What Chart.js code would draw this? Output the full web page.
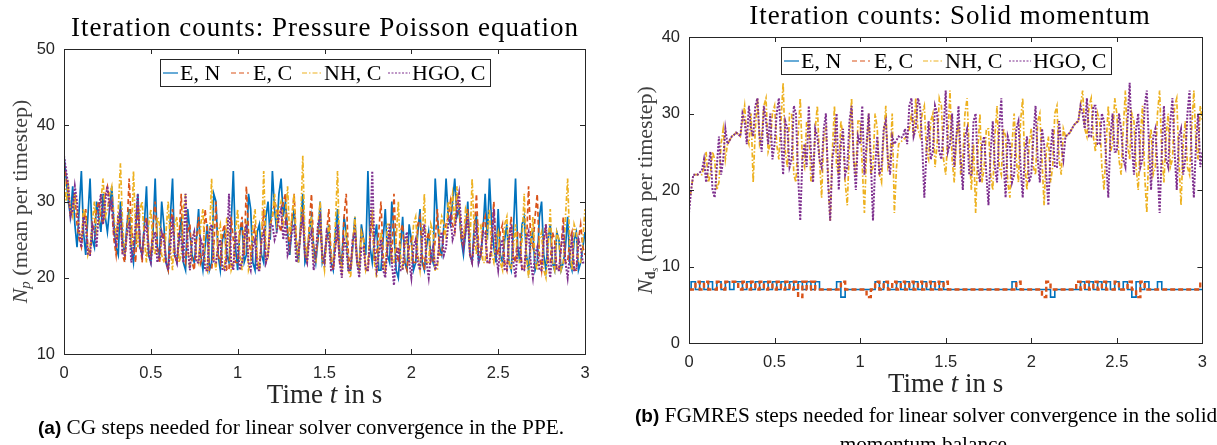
<!DOCTYPE html>
<html>
<head>
<meta charset="utf-8">
<script src="https://cdn.jsdelivr.net/npm/chart.js@4.4.1/dist/chart.umd.min.js"></script>
<style>
body { margin: 0; background: #fff; width: 1217px; height: 445px; overflow: hidden; position: relative; }
.panel { position: absolute; top: 0; height: 445px; }
.title { position: absolute; font-family: "Liberation Serif", serif; font-size: 27px; letter-spacing: 1px; line-height: 30px; color: #000; white-space: nowrap; transform: translateX(-50%); }
.caption { position: absolute; font-family: "Liberation Serif", serif; font-size: 21.3px; line-height: 24px; color: #000; white-space: nowrap; }
.caption b { font-family: "Liberation Sans", Arial, sans-serif; font-size: 19px; }
</style>
</head>
<body>
<div class="panel" style="left:0;width:605px"><canvas id="ppeChart"></canvas></div>
<div class="panel" style="left:610px;width:607px"><canvas id="solidChart"></canvas></div>
<div class="title" style="left:325px;top:12px">Iteration counts: Pressure Poisson equation</div>
<div class="title" style="left:950px;top:0px">Iteration counts: Solid momentum</div>
<div class="caption" style="left:38px;top:415px"><b>(a)</b> CG steps needed for linear solver convergence in the PPE.</div>
<div class="caption" style="left:635px;top:403px"><b>(b)</b> FGMRES steps needed for linear solver convergence in the solid</div>
<div class="caption" style="left:926px;top:432px;transform:translateX(-50%)">momentum balance.</div>
<script>
// (a) CG iterations, pressure Poisson equation, sampled every 0.0125 s
const ppeEN = [36,33,30,28,32,27,24,29,34,26,23,28,33,25,24,30,28,26,31,28,
  26,29,32,27,24,23,30,25,23,27,29,24,22,26,31,24,23,27,32,23,
  22,26,33,24,23,30,27,22,21,28,33,23,22,25,28,22,21,29,26,23,
  22,25,29,23,21,24,27,21,22,31,30,23,21,25,26,23,22,27,34,24,
  21,26,27,22,23,31,29,22,21,26,27,23,22,28,30,25,34,29,26,31,
  33,28,30,26,23,27,29,24,22,27,31,22,23,26,28,24,22,25,30,22,
  23,25,27,22,21,26,29,23,22,28,26,21,21,24,28,22,21,27,25,23,
  34,24,22,25,27,21,21,25,29,23,22,30,26,21,20,24,28,22,21,27,
  25,21,22,26,29,22,21,24,26,23,22,33,28,24,23,27,33,28,27,30,
  33,28,29,25,23,26,30,23,22,27,28,22,23,26,31,25,33,27,24,22,
  29,23,22,25,27,22,21,26,33,24,22,27,28,23,21,25,26,21,22,28,
  30,23,21,25,27,22,21,26,25,21,22,24,28,22,21,25,26,21,22,24,
  26];
const ppeEC = [35,33,31,28,29,31,27,25,24,27,29,24,23,26,27,29,30,28,27,31,
  32,30,29,25,23,27,28,23,22,26,33,27,24,22,30,25,22,27,28,24,
  23,27,30,24,22,25,26,22,21,27,29,23,22,25,31,23,22,26,27,22,
  21,25,28,22,23,29,26,21,21,24,30,23,22,26,27,21,21,28,25,22,
  22,26,28,23,32,26,23,25,27,22,21,25,29,22,23,27,28,30,29,27,
  26,30,31,26,24,28,31,25,23,26,29,23,22,27,31,24,23,25,27,22,
  22,26,29,23,21,24,26,22,22,28,31,23,21,25,27,22,22,26,25,21,
  21,25,28,22,23,26,30,23,21,24,26,22,31,24,22,26,27,22,21,24,
  25,22,22,27,28,23,21,25,26,22,22,25,29,23,23,26,27,28,30,27,
  26,31,29,25,24,27,29,23,22,26,31,24,23,27,28,22,22,25,30,24,
  23,26,27,22,21,25,28,23,22,26,26,21,21,24,32,25,24,28,31,23,
  21,25,27,22,22,26,25,21,21,24,28,22,22,25,26,21,21,25,27,24,
  23];
const ppeNH = [34,30,32,29,28,31,29,26,25,29,28,23,24,27,30,26,27,30,33,28,
  29,31,32,28,25,29,35,27,23,26,28,24,34,26,24,29,30,25,22,27,
  29,24,23,28,27,23,22,26,30,24,21,27,28,22,23,29,31,24,21,25,
  26,23,22,27,29,22,21,25,33,23,21,26,27,22,21,28,25,21,22,26,
  29,23,21,26,27,21,22,27,29,23,21,25,34,24,23,27,28,31,27,29,
  30,27,28,32,25,28,31,24,22,27,36,25,23,26,28,22,22,27,30,23,
  21,25,27,22,22,27,34,23,21,25,26,21,20,24,28,22,21,26,25,21,
  22,26,29,22,20,24,26,21,21,27,27,22,22,25,30,23,21,24,25,22,
  22,27,28,23,21,25,31,22,22,27,26,21,21,26,28,27,25,30,29,31,
  27,32,30,26,25,29,28,24,33,26,23,27,27,22,22,26,29,23,22,25,
  26,22,21,27,28,22,21,24,27,22,22,25,31,23,20,24,28,22,21,25,
  26,21,20,24,29,22,21,26,25,21,22,28,33,24,21,27,26,22,22,25,
  29];
const ppeHGO = [36,34,32,28,29,32,30,26,24,28,27,23,23,27,26,24,29,31,27,30,
  32,29,30,26,24,28,29,23,23,26,27,22,24,27,31,24,23,26,27,23,
  22,25,26,22,23,26,25,22,21,24,28,23,22,26,25,22,31,24,21,25,
  26,22,22,25,24,21,21,26,27,22,22,24,25,21,21,23,31,22,21,26,
  24,21,22,25,27,22,21,24,25,21,21,25,26,22,23,27,27,25,26,28,
  29,25,27,23,24,26,27,22,23,26,28,23,22,25,26,21,23,27,28,23,
  22,26,25,21,21,24,27,22,20,25,24,21,21,25,26,22,20,24,24,21,
  21,25,34,24,21,23,25,21,20,24,27,22,19,23,24,21,21,25,26,22,
  20,24,25,22,21,25,27,22,20,23,24,21,22,25,26,23,24,27,28,25,
  26,29,31,27,24,26,28,23,22,25,27,22,23,26,26,22,22,24,29,23,
  21,24,25,21,21,25,27,22,20,24,24,21,21,25,26,22,20,23,24,21,
  21,25,27,22,20,24,24,21,21,24,26,22,20,23,25,21,21,25,24,22,
  22];

// (b) FGMRES iterations, solid momentum
const solidEN = [7,8,7,8,7,8,7,8,7,8,
  7,8,8,7,8,7,8,7,8,7,
  8,7,8,7,8,7,8,7,8,7,
  8,7,7,7,7,8,6,7,7,7,
  7,7,7,7,8,7,8,7,7,8,
  7,8,7,8,7,8,7,8,7,8,
  7,7,7,7,7,7,7,7,7,7,
  7,7,7,7,7,7,8,7,7,7,
  7,7,7,7,7,6,7,7,7,7,
  7,7,8,7,8,7,8,7,8,7,
  8,7,8,7,6,8,7,8,7,7,
  8,7,7,7,7,7,7,7,7,7,
  7];
const solidEC = [7,7,8,7,8,7,7,8,7,8,
  8,8,7,8,7,8,7,8,7,8,
  7,8,7,8,7,8,6,8,7,8,
  7,7,7,7,7,7,8,7,7,7,
  7,7,6,7,8,7,8,7,8,7,
  8,7,8,7,8,7,8,7,8,7,
  8,7,7,7,7,7,7,7,7,7,
  7,7,7,7,7,7,7,8,7,7,
  7,7,7,6,8,7,7,7,7,7,
  7,8,7,8,7,8,7,8,7,7,
  8,7,7,8,7,6,8,7,7,7,
  7,7,7,7,7,7,7,7,7,7,
  8];
const solidNH = [18,20,22,22,22,22,22,23,25,21,22,25,24,20,21,26,28,24,26,26.5,
  27,27.2,27.5,27.3,27,29,31,27,26,30,21,28,32,26,27,31,32,25,26,30,
  31,26,24,29,34,25,23,30,30,22,21,27,32,24,23,29,29,21,22,28,
  31,24,19,27,28,22,16,25,31,23,22,29,27,21,18,26,32,24,22,29,
  29,23,17,25,30,22,23,30,28,22,21,27,31,23,24,30,17,23,26,26.3,
  26.5,26.8,27,28,30,27,32,28,27,30,31,25,24,29,30,23,26,32,31,24,
  22,27,33,24,21,27,29,22,24,30,32,25,20,26,17,25,30,21,23,28,
  28,22,20,27,31,23,22,28,27,21,19,26,30,24,21,29,32,23,20,26,
  28,23,22,29,30,24,18,25,27,21,23,30,31,24,22,28,27,27.2,27.5,28,
  28.5,28.8,29,31,33,28,27,31,32,27,25,30,29,23,20,26,31,25,26,32,
  30,24,22,28,33,26,24,30,29,23,20,27,31,22,17,26,28,22,23,30,
  33,25,21,27,30,23,24,31,32,24,18,26,29,23,22,28,33,26,24,31,
  29];
const solidHGO = [17,20,22,22,22,22.3,22.5,24,21,23,25,20,19,23,27,22,24,28,26,26.5,
  27,27.2,27.5,27.3,27,30,29,26,31,28,27,31,32,27,25,31,29,26,30,24,
  26,30,32,27,22,29,28,23,24,31,30,22,16,24,26,23,31,25,21,28,
  27,24,23,28,30,21,16,24,26,30,20,26,28,22,23,29,31,24,20,27,
  26,31,22,26,30,24,16,23,27,22,23,28,29,24,22,27,26,26.5,27,26.8,
  27,28,26,31,32,27,28,32,31,26,19,25,29,24,25,31,30,25,24,28,
  33,25,26,30,23,27,31,24,20,27,28,22,22,29,30,23,21,26,27,22,
  18,25,29,23,21,28,32,24,19,27,26,21,22,28,29,23,19,25,27,21,
  22,27,31,24,21,28,26,22,18,25,28,23,23,29,26,24,27,27.2,27.5,28,
  28.5,28.8,29,31,30,28,32,27,27,31,31,26,26,30,29,24,19,27,30,25,
  25,30,28,24,23,29,34,26,22,28,30,23,24,31,33,26,20,27,28,23,
  17,25,31,24,23,29,32,25,20,27,28,22,24,30,33,24,19,26,30,23,
  25];

const seriesLabels = ["E, N", "E, C", "NH, C", "HGO, C"];
const tEnd = 3;

const seriesStyle = [
  { color: "#0072BD", dash: [] },
  { color: "#D95319", dash: [5, 3] },
  { color: "#EDB120", dash: [5, 2, 1.5, 2] },
  { color: "#7E2F8E", dash: [2, 1.5] }
];
// legend sample start/end and text start, px from the legend box left
const legendSlots = [
  { s0: 3, s1: 18, tx: 20 },
  { s0: 71, s1: 89, tx: 93 },
  { s0: 142, s1: 162, tx: 164 },
  { s0: 228, s1: 250, tx: 252 }
];

const serif = '"Liberation Serif", serif';

const framePlugin = {
  id: "frame",
  afterDraw(chart, args, opts) {
    const { ctx, chartArea: a } = chart;
    const xs = chart.scales.x, ys = chart.scales.y;
    ctx.save();
    ctx.setLineDash([]);
    ctx.strokeStyle = "#262626";
    ctx.lineWidth = 1;
    // MATLAB style ticks, inside, on all four sides
    ctx.beginPath();
    xs.ticks.forEach(t => {
      const px = Math.round(xs.getPixelForValue(t.value)) + 0.5;
      ctx.moveTo(px, a.bottom); ctx.lineTo(px, a.bottom - 5);
      ctx.moveTo(px, a.top); ctx.lineTo(px, a.top + 5);
    });
    ys.ticks.forEach(t => {
      const py = Math.round(ys.getPixelForValue(t.value)) + 0.5;
      ctx.moveTo(a.left, py); ctx.lineTo(a.left + 5, py);
      ctx.moveTo(a.right, py); ctx.lineTo(a.right - 5, py);
    });
    ctx.stroke();
    ctx.strokeRect(Math.round(a.left) + 0.5, Math.round(a.top) + 0.5, Math.round(a.right - a.left), Math.round(a.bottom - a.top));

    // legend
    const lx = Math.round((a.left + a.right) / 2 - 165), ly = Math.round(a.top + 10);
    ctx.fillStyle = "#fff";
    ctx.fillRect(lx, ly, 330, 27);
    ctx.strokeRect(lx + 0.5, ly + 0.5, 330, 27);
    ctx.font = "22px " + serif;
    ctx.textBaseline = "middle";
    ctx.textAlign = "left";
    chart.data.datasets.forEach((ds, i) => {
      const slot = legendSlots[i];
      ctx.strokeStyle = ds.borderColor;
      ctx.lineWidth = 1.2;
      ctx.setLineDash(ds.borderDash);
      ctx.beginPath();
      ctx.moveTo(lx + slot.s0, ly + 14);
      ctx.lineTo(lx + slot.s1, ly + 14);
      ctx.stroke();
      ctx.setLineDash([]);
      ctx.fillStyle = "#000";
      ctx.fillText(ds.label, lx + slot.tx, ly + 15);
    });

    // x title: Time t in s
    const xParts = [
      { text: "Time ", font: "27px " + serif },
      { text: "t", font: "italic 27px " + serif },
      { text: " in s", font: "27px " + serif }
    ];
    drawParts(ctx, xParts, (a.left + a.right) / 2, a.bottom + 42, 0, "#262626");

    // y title, rotated
    drawParts(ctx, opts.yTitle, a.left - 43, (a.top + a.bottom) / 2, -Math.PI / 2, "#404040");
    ctx.restore();
  }
};

function drawParts(ctx, parts, cx, cy, angle, color) {
  let width = 0;
  parts.forEach(p => { ctx.font = p.font; width += ctx.measureText(p.text).width; });
  ctx.save();
  ctx.translate(cx, cy);
  ctx.rotate(angle);
  ctx.fillStyle = color;
  ctx.textBaseline = "middle";
  ctx.textAlign = "left";
  let x = -width / 2;
  parts.forEach(p => {
    ctx.font = p.font;
    ctx.fillText(p.text, x, p.dy || 0);
    x += ctx.measureText(p.text).width;
  });
  ctx.restore();
}

function makeDatasets(values, widths, stepped) {
  return values.map((v, i) => ({
    label: seriesLabels[i],
    data: v.map((y, k) => ({ x: k * tEnd / (v.length - 1), y: y })),
    borderColor: seriesStyle[i].color,
    borderDash: seriesStyle[i].dash,
    borderWidth: widths[i],
    stepped: stepped[i],
    pointRadius: 0,
    tension: 0,
    order: 3 - i
  }));
}

function buildChart(id, datasets, yMin, yMax, yWidth, xHeight, padding, yTitle) {
  const tickFont = { family: '"Liberation Sans", Arial, sans-serif', size: 16.5 };
  return new Chart(document.getElementById(id), {
    type: "line",
    data: { datasets: datasets },
    options: {
      responsive: true,
      maintainAspectRatio: false,
      animation: false,
      layout: { padding: padding },
      plugins: {
        legend: { display: false },
        tooltip: { enabled: false },
        frame: { yTitle: yTitle }
      },
      scales: {
        x: {
          type: "linear", min: 0, max: 3,
          grid: { display: false, drawTicks: false }, border: { display: false },
          ticks: { stepSize: 0.5, font: tickFont, color: "#262626", padding: 10, maxRotation: 0,
            callback: v => String(Number(v.toFixed(2))) },
          afterFit: s => { s.height = xHeight; }
        },
        y: {
          min: yMin, max: yMax,
          grid: { display: false, drawTicks: false }, border: { display: false },
          ticks: { stepSize: 10, font: tickFont, color: "#262626", padding: 9 },
          afterFit: s => { s.width = yWidth; }
        }
      }
    },
    plugins: [framePlugin]
  });
}

buildChart("ppeChart",
  makeDatasets([ppeEN, ppeEC, ppeNH, ppeHGO], [1.7, 1.7, 1.7, 2], [false, false, false, false]),
  10, 50, 64, 91, { left: 0, top: 49, right: 20, bottom: 0 },
  [
    { text: "N", font: "italic 22px " + serif },
    { text: "p", font: "italic 15px " + serif, dy: 5 },
    { text: " (mean per timestep)", font: "22px " + serif }
  ]);

buildChart("solidChart",
  makeDatasets([solidEN, solidEC, solidNH, solidHGO], [1.6, 2.4, 1.7, 2], ["middle", "middle", false, false]),
  0, 40, 79, 102, { left: 0, top: 37, right: 6, bottom: 0 },
  [
    { text: "N", font: "italic 22px " + serif },
    { text: "d", font: "bold 14px " + serif, dy: 5 },
    { text: "s", font: "italic 10px " + serif, dy: 9 },
    { text: " (mean per timestep)", font: "22px " + serif }
  ]);
</script>
</body>
</html>
